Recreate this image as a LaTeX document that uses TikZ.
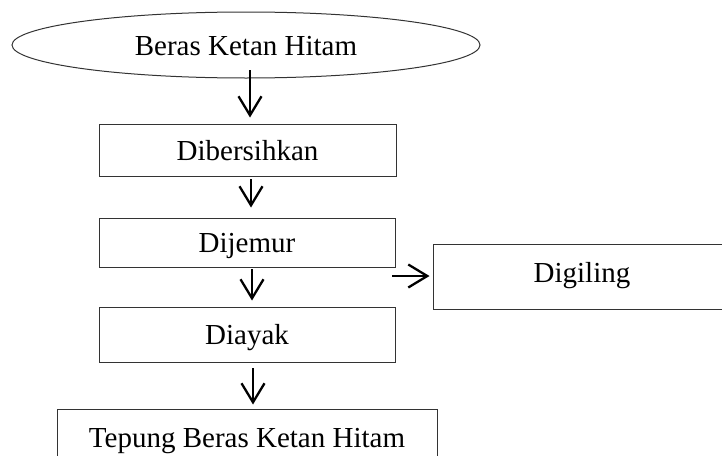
\documentclass[tikz,border=0pt]{standalone}
\usepackage{fontspec}
\setmainfont{Liberation Serif}
\usetikzlibrary{shapes.geometric,arrows.meta}
\begin{document}
\begin{tikzpicture}[x=1pt,y=-1pt,
  every node/.style={font=\fontsize{29}{34}\selectfont},
  boxnode/.style={draw=black!80,line width=1pt,rectangle,inner sep=0pt,text height=20pt,text depth=0pt},
  ovalnode/.style={draw=black!80,line width=1pt,ellipse,inner sep=0pt,minimum width=468pt,minimum height=66pt,text height=20pt,text depth=0pt},
  arr/.style={line width=2.3pt,-{Straight Barb[length=19pt,width=23pt,line width=2.3pt]}}]
\useasboundingbox (0,0) rectangle (722,455);
\node[ovalnode] (src) at (246,45) {Beras Ketan Hitam};
\node[boxnode,minimum width=297pt,minimum height=52pt] (dib) at (247.5,150) {Dibersihkan};
\node[boxnode,minimum width=296pt,minimum height=49pt] (dij) at (247,242.5) {Dijemur};
\node[boxnode,minimum width=296pt,minimum height=55pt] (dia) at (247,334.5) {Diayak};
\node[boxnode,minimum width=380pt,minimum height=56pt] (tep) at (247,437) {Tepung Beras Ketan Hitam};
\node[boxnode,minimum width=298pt,minimum height=65pt,text depth=9pt] (dig) at (582,276.5) {Digiling};
\coordinate (s1) at (250,70);
\coordinate (s2) at (251,179);
\coordinate (s3) at (252,269);
\coordinate (s4) at (253,368);
\coordinate (s5) at (392,276);
\draw[arr,shorten >=6pt] (s1) -- (s1 |- dib.north);
\draw[arr,shorten >=10pt] (s2) -- (s2 |- dij.north);
\draw[arr,shorten >=6pt] (s3) -- (s3 |- dia.north);
\draw[arr,shorten >=4pt] (s4) -- (s4 |- tep.north);
\draw[arr,shorten >=3pt] (s5) -- (s5 -| dig.west);
\end{tikzpicture}
\end{document}
